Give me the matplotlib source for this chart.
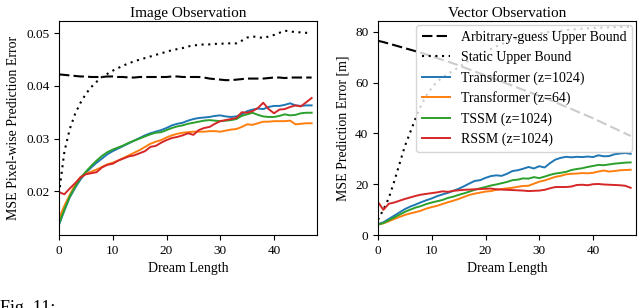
import numpy as np
import matplotlib
matplotlib.use("Agg")
import matplotlib.pyplot as plt

plt.rcParams['font.family'] = ['Liberation Serif', 'DejaVu Serif']

steps = np.arange(48)

# ---- Image observation (MSE pixel-wise) ----
img_arbitrary = [0.0422, 0.0421, 0.0420, 0.0419, 0.0418, 0.0418, 0.0417, 0.0417, 0.0417, 0.0418,
                 0.0418, 0.0417, 0.0417, 0.0416, 0.0416, 0.0417, 0.0417, 0.0417, 0.0417, 0.0417,
                 0.0417, 0.0418, 0.0418, 0.0417, 0.0417, 0.0417, 0.0417, 0.0416, 0.0414, 0.0413,
                 0.0412, 0.0411, 0.0411, 0.0412, 0.0413, 0.0414, 0.0414, 0.0414, 0.0414, 0.0415,
                 0.0416, 0.0416, 0.0415, 0.0416, 0.0416, 0.0416, 0.0416, 0.0416]
img_static = [0.0195, 0.0275, 0.0318, 0.0347, 0.0368, 0.0385, 0.0398, 0.0408, 0.0417, 0.0423,
              0.0429, 0.0434, 0.0439, 0.0443, 0.0447, 0.0450, 0.0453, 0.0456, 0.0459, 0.0462,
              0.0465, 0.0468, 0.0470, 0.0472, 0.0475, 0.0477, 0.0478, 0.0479, 0.0479, 0.0480,
              0.0480, 0.0481, 0.0481, 0.0481, 0.0486, 0.0492, 0.0494, 0.0493, 0.0491, 0.0494,
              0.0497, 0.0501, 0.0505, 0.0504, 0.0502, 0.0502, 0.0501, 0.0501]
img_tf1024 = [0.0136, 0.0163, 0.0188, 0.0206, 0.0222, 0.0235, 0.0245, 0.0254, 0.0262, 0.0270,
              0.0276, 0.0281, 0.0286, 0.0291, 0.0296, 0.0301, 0.0306, 0.0310, 0.0313, 0.0316,
              0.0320, 0.0325, 0.0328, 0.0330, 0.0334, 0.0337, 0.0339, 0.0340, 0.0341, 0.0343,
              0.0344, 0.0342, 0.0341, 0.0342, 0.0346, 0.0352, 0.0355, 0.0357, 0.0356, 0.0360,
              0.0362, 0.0362, 0.0364, 0.0367, 0.0363, 0.0362, 0.0363, 0.0363]
img_tf64 = [0.0148, 0.0172, 0.0193, 0.0212, 0.0227, 0.0233, 0.0237, 0.0241, 0.0246, 0.0251,
            0.0254, 0.0258, 0.0263, 0.0268, 0.0273, 0.0278, 0.0284, 0.0290, 0.0294, 0.0297,
            0.0302, 0.0306, 0.0309, 0.0311, 0.0312, 0.0313, 0.0313, 0.0313, 0.0314, 0.0314,
            0.0313, 0.0315, 0.0317, 0.0318, 0.0322, 0.0327, 0.0326, 0.0329, 0.0332, 0.0332,
            0.0333, 0.0333, 0.0333, 0.0334, 0.0327, 0.0328, 0.0329, 0.0329]
img_tssm = [0.0138, 0.0165, 0.0190, 0.0208, 0.0225, 0.0237, 0.0248, 0.0258, 0.0267, 0.0274,
            0.0279, 0.0283, 0.0287, 0.0292, 0.0296, 0.0300, 0.0304, 0.0308, 0.0311, 0.0312,
            0.0316, 0.0320, 0.0323, 0.0325, 0.0328, 0.0330, 0.0332, 0.0334, 0.0335, 0.0334,
            0.0333, 0.0334, 0.0335, 0.0337, 0.0343, 0.0346, 0.0349, 0.0345, 0.0342, 0.0341,
            0.0341, 0.0343, 0.0346, 0.0344, 0.0345, 0.0348, 0.0349, 0.0349]
img_rssm = [0.0198, 0.0194, 0.0205, 0.0215, 0.0226, 0.0232, 0.0234, 0.0236, 0.0245, 0.0250,
            0.0252, 0.0258, 0.0262, 0.0266, 0.0268, 0.0272, 0.0276, 0.0284, 0.0286, 0.0292,
            0.0297, 0.0301, 0.0303, 0.0306, 0.0310, 0.0307, 0.0316, 0.0320, 0.0322, 0.0328,
            0.0333, 0.0335, 0.0337, 0.0339, 0.0350, 0.0349, 0.0352, 0.0358, 0.0368, 0.0356,
            0.0348, 0.0355, 0.0356, 0.0360, 0.0363, 0.0361, 0.0369, 0.0377]

# ---- Vector observation (MSE [m]) ----
vec_arbitrary = [76.5, 76.0, 75.4, 74.8, 74.2, 73.6, 73.0, 72.4, 71.8, 71.1,
                 70.4, 69.7, 69.0, 68.3, 67.6, 66.8, 66.0, 65.2, 64.4, 63.6,
                 62.8, 62.0, 61.2, 60.4, 59.6, 58.8, 58.0, 57.2, 56.4, 55.6,
                 54.8, 54.0, 53.2, 52.3, 51.4, 50.5, 49.6, 48.7, 47.8, 46.9,
                 46.0, 45.0, 44.0, 43.0, 42.0, 41.0, 40.0, 39.0]
vec_static = [6.0, 10.0, 14.5, 21.0, 28.0, 35.0, 40.5, 46.0, 51.0, 55.0,
              58.0, 60.5, 62.0, 63.5, 64.8, 66.0, 67.5, 68.8, 70.0, 71.2,
              72.3, 73.3, 74.3, 75.2, 76.0, 76.7, 77.4, 78.0, 78.5, 79.0,
              79.4, 79.8, 80.0, 80.3, 80.5, 80.7, 80.9, 81.1, 81.3, 81.4,
              81.5, 81.6, 81.7, 81.8, 81.9, 82.0, 82.0, 82.1]
vec_tf1024 = [4.3, 5.0, 6.3, 7.6, 8.9, 10.2, 11.2, 12.0, 12.9, 13.7,
              14.4, 15.3, 16.0, 16.6, 17.4, 18.2, 19.2, 20.3, 21.3, 21.6,
              22.5, 23.2, 23.5, 23.3, 24.1, 25.2, 25.5, 26.1, 26.8, 26.2,
              27.1, 26.6, 28.3, 29.7, 30.4, 30.8, 30.6, 30.8, 30.7, 30.9,
              30.7, 31.4, 31.0, 31.1, 31.8, 32.1, 32.3, 32.0]
vec_tf64 = [4.2, 4.6, 5.4, 6.3, 7.1, 7.9, 8.5, 9.0, 9.6, 10.4,
            11.0, 11.5, 12.2, 12.9, 13.5, 14.2, 15.0, 15.8, 16.3, 16.7,
            17.1, 17.3, 17.8, 18.1, 18.4, 18.6, 19.0, 19.3, 19.4, 20.2,
            21.0, 21.5, 22.2, 22.9, 23.3, 23.9, 24.1, 24.2, 24.4, 24.3,
            24.5, 25.0, 25.4, 25.0, 25.2, 25.5, 25.6, 25.7]
vec_tssm = [4.1, 4.7, 5.8, 6.9, 8.0, 9.1, 10.0, 10.8, 11.4, 12.2,
            12.8, 13.3, 13.8, 14.6, 15.1, 15.8, 16.4, 17.1, 17.8, 18.4,
            18.9, 19.5, 19.9, 20.4, 20.9, 21.6, 21.8, 22.3, 22.2, 22.8,
            22.4, 23.0, 23.7, 24.2, 24.5, 24.9, 25.6, 26.0, 26.3, 26.8,
            27.2, 27.6, 27.5, 27.8, 28.1, 28.3, 28.5, 28.6]
vec_rssm = [13.0, 9.9, 12.3, 12.8, 13.5, 14.2, 14.8, 15.4, 15.9, 16.2,
            16.5, 16.8, 17.2, 17.0, 17.4, 17.6, 17.8, 17.9, 18.0, 18.1,
            18.2, 18.3, 18.0, 17.9, 17.8, 17.7, 17.6, 17.5, 17.3, 17.4,
            17.5, 17.8, 18.4, 18.9, 18.9, 18.9, 19.1, 19.7, 19.8, 19.6,
            20.0, 20.1, 19.9, 19.8, 19.7, 19.6, 19.4, 18.6]

labels = ["Arbitrary-guess Upper Bound", "Static Upper Bound",
          "Transformer (z=1024)", "Transformer (z=64)", "TSSM (z=1024)", "RSSM (z=1024)"]
colors = ["#1f77b4", "#ff7f0e", "#2ca02c", "#d62728"]
caption = "Fig. 11:"

fig = plt.figure(figsize=(6.4, 3.08), dpi=100)
ax1 = fig.add_axes([59/640, 1-235/308, 258/640, 214/308])
ax2 = fig.add_axes([378/640, 1-235/308, 258/640, 214/308])

def draw(ax, arb, stat, series):
    ax.plot(steps, arb, color='black', ls=(0, (5, 2)), lw=1.5, label=labels[0])
    ax.plot(steps, stat, color='black', ls=(0, (1, 2.2)), lw=1.5, label=labels[1])
    for s, c, lab in zip(series, colors, labels[2:]):
        ax.plot(steps, s, color=c, lw=1.4, label=lab)
    ax.set_xlim(0, 48)
    ax.set_xticks([0, 10, 20, 30, 40])
    ax.tick_params(labelsize=9.5)
    ax.set_xlabel("Dream Length", fontsize=10)

draw(ax1, img_arbitrary, img_static, [img_tf1024, img_tf64, img_tssm, img_rssm])
ax1.set_ylim(0.01165, 0.05235)
ax1.set_yticks([0.02, 0.03, 0.04, 0.05])
ax1.set_ylabel("MSE Pixel-wise Prediction Error", fontsize=10)
ax1.set_title("Image Observation", fontsize=11, pad=3)

draw(ax2, vec_arbitrary, vec_static, [vec_tf1024, vec_tf64, vec_tssm, vec_rssm])
ax2.set_ylim(0, 84.3)
ax2.set_yticks([0, 20, 40, 60, 80])
ax2.set_ylabel("MSE Prediction Error [m]", fontsize=10)
ax2.set_title("Vector Observation", fontsize=11, pad=3)
ax2.legend(loc='upper right', fontsize=10, framealpha=0.8, borderaxespad=0.3)

fig.text(0.0, 1 - 300/308, caption, fontsize=13, va='top', ha='left')

fig.savefig("out.png", dpi=100)
